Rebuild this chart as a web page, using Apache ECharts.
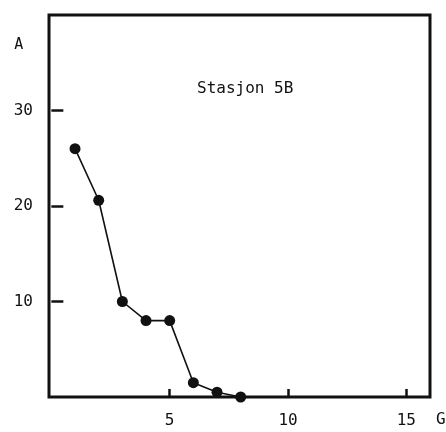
<!DOCTYPE html>
<html>
<head>
<meta charset="utf-8">
<script src="https://cdn.jsdelivr.net/npm/echarts@6/dist/echarts.min.js"></script>
<style>
  html, body { margin: 0; padding: 0; background: #fff; }
  #chart { width: 446px; height: 432px; }
</style>
</head>
<body>
<div id="chart"></div>
<script>
// values
const gValues = [1, 2, 3, 4, 5, 6, 7, 8];
const aValues = [26, 20.6, 10, 8, 8, 1.5, 0.5, 0];
const xTicks = [5, 10, 15];
const yTicks = [10, 20, 30];

const chart = echarts.init(document.getElementById('chart'));
const font = 'DejaVu Sans Mono';

const option = {
  animation: false,
  backgroundColor: '#fff',
  grid: {
    show: true,
    left: 49,
    right: 16,
    top: 15,
    bottom: 35,
    outerBoundsMode: 'none',
    containLabel: false,
    borderColor: '#111',
    borderWidth: 3,
    backgroundColor: 'transparent'
  },
  title: {
    text: 'Stasjon 5B',
    left: 192,
    top: 76,
    textStyle: { fontFamily: font, fontSize: 16, fontWeight: 'normal', color: '#111' }
  },
  xAxis: {
    type: 'value',
    min: -0.1,
    max: 16,
    name: 'G',
    nameLocation: 'end',
    nameGap: 6,
    nameTextStyle: { fontFamily: font, fontSize: 16, color: '#111', verticalAlign: 'top', padding: [15, 0, 0, 0] },
    axisLine: { show: false },
    axisTick: { show: true, inside: true, length: 8, customValues: xTicks, lineStyle: { color: '#111', width: 2.5 } },
    axisLabel: {
      margin: 16,
      fontFamily: font,
      fontSize: 16,
      color: '#111',
      customValues: xTicks
    },
    splitLine: { show: false }
  },
  yAxis: {
    type: 'value',
    min: 0,
    max: 40,
    name: 'A',
    nameLocation: 'end',
    nameGap: -38,
    nameTextStyle: { fontFamily: font, fontSize: 15, color: '#111', align: 'right', padding: [0, 28, 0, 0] },
    axisLine: { show: false },
    axisTick: { show: true, inside: true, length: 12, customValues: yTicks, lineStyle: { color: '#111', width: 2.5 } },
    axisLabel: {
      margin: 16,
      fontFamily: font,
      fontSize: 16,
      color: '#111',
      customValues: yTicks,
      padding: [4, 0, 0, 0]
    },
    splitLine: { show: false }
  },
  series: [
    {
      type: 'line',
      data: gValues.map((g, i) => [g, aValues[i]]),
      symbol: 'circle',
      symbolSize: 11,
      itemStyle: { color: '#111' },
      lineStyle: { color: '#111', width: 1.6 }
    }
  ]
};

chart.setOption(option);
</script>
</body>
</html>
